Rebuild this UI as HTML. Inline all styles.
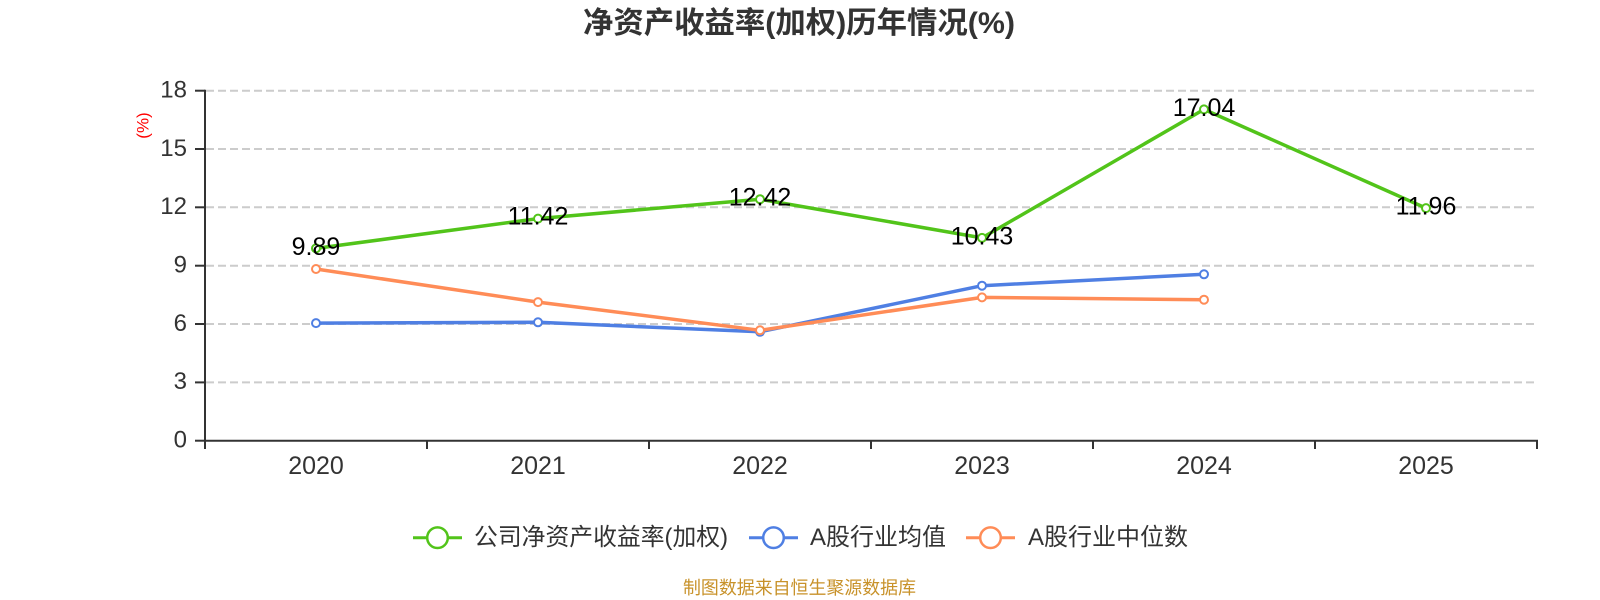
<!DOCTYPE html>
<html>
<head>
<meta charset="utf-8">
<style>
  html, body { margin: 0; padding: 0; background: #fff; }
  svg { display: block; }
  text { font-family: "Liberation Sans", "Noto Sans CJK SC", sans-serif; }
</style>
</head>
<body>
<svg width="1600" height="600" viewBox="0 0 1600 600" xmlns="http://www.w3.org/2000/svg">
  <rect width="1600" height="600" fill="#fff"/>

  <!-- Title -->
  <text x="799" y="33" text-anchor="middle" font-size="30" font-weight="bold" fill="#333" textLength="432" lengthAdjust="spacingAndGlyphs">净资产收益率(加权)历年情况(%)</text>

  <!-- Unit label -->
  <text x="0" y="0" transform="translate(148.5,125.5) rotate(-90)" text-anchor="middle" font-size="17" fill="#ff0000">(%)</text>

  <!-- Grid lines -->
  <g stroke="#cccccc" stroke-width="2" stroke-dasharray="8,4" fill="none">
    <line x1="206" y1="90.7" x2="1537" y2="90.7"/>
    <line x1="206" y1="149.0" x2="1537" y2="149.0"/>
    <line x1="206" y1="207.3" x2="1537" y2="207.3"/>
    <line x1="206" y1="265.7" x2="1537" y2="265.7"/>
    <line x1="206" y1="324.0" x2="1537" y2="324.0"/>
    <line x1="206" y1="382.4" x2="1537" y2="382.4"/>
  </g>

  <!-- Axes -->
  <g stroke="#333" stroke-width="2" fill="none">
    <line x1="205" y1="89.7" x2="205" y2="441.7"/>
    <line x1="204" y1="440.7" x2="1538" y2="440.7"/>
    <line x1="195" y1="90.7" x2="205" y2="90.7"/>
    <line x1="195" y1="149.0" x2="205" y2="149.0"/>
    <line x1="195" y1="207.3" x2="205" y2="207.3"/>
    <line x1="195" y1="265.7" x2="205" y2="265.7"/>
    <line x1="195" y1="324.0" x2="205" y2="324.0"/>
    <line x1="195" y1="382.4" x2="205" y2="382.4"/>
    <line x1="195" y1="440.7" x2="205" y2="440.7"/>
    <line x1="205" y1="440.7" x2="205" y2="449"/>
    <line x1="427" y1="440.7" x2="427" y2="449"/>
    <line x1="649" y1="440.7" x2="649" y2="449"/>
    <line x1="871" y1="440.7" x2="871" y2="449"/>
    <line x1="1093" y1="440.7" x2="1093" y2="449"/>
    <line x1="1315" y1="440.7" x2="1315" y2="449"/>
    <line x1="1537" y1="440.7" x2="1537" y2="449"/>
  </g>

  <!-- Y labels -->
  <g font-size="24" fill="#333" text-anchor="end">
    <text x="187" y="97.5">18</text>
    <text x="187" y="155.8">15</text>
    <text x="187" y="214.1">12</text>
    <text x="187" y="272.5">9</text>
    <text x="187" y="330.8">6</text>
    <text x="187" y="389.2">3</text>
    <text x="187" y="447.5">0</text>
  </g>

  <!-- X labels -->
  <g font-size="25" fill="#333" text-anchor="middle">
    <text x="316" y="474">2020</text>
    <text x="538" y="474">2021</text>
    <text x="760" y="474">2022</text>
    <text x="982" y="474">2023</text>
    <text x="1204" y="474">2024</text>
    <text x="1426" y="474">2025</text>
  </g>

  <!-- Series -->
  <polyline points="316,323.1 538,322.3 760,331.8 982,285.7 1204,274.3" fill="none" stroke="#4f7fe3" stroke-width="3.5" stroke-linejoin="round"/>
  <polyline points="316,269 538,302.1 760,330.3 982,297.4 1204,299.7" fill="none" stroke="#ff8c57" stroke-width="3.5" stroke-linejoin="round"/>
  <polyline points="316,248.4 538,218.65 760,199.2 982,237.9 1204,109.4 1426,208.15" fill="none" stroke="#52c41a" stroke-width="3.5" stroke-linejoin="round"/>

  <!-- Markers -->
  <g fill="#fff" stroke="#4f7fe3" stroke-width="2">
    <circle cx="316" cy="323.1" r="4"/>
    <circle cx="538" cy="322.3" r="4"/>
    <circle cx="760" cy="331.8" r="4"/>
    <circle cx="982" cy="285.7" r="4"/>
    <circle cx="1204" cy="274.3" r="4"/>
  </g>
  <g fill="#fff" stroke="#ff8c57" stroke-width="2">
    <circle cx="316" cy="269" r="4"/>
    <circle cx="538" cy="302.1" r="4"/>
    <circle cx="760" cy="330.3" r="4"/>
    <circle cx="982" cy="297.4" r="4"/>
    <circle cx="1204" cy="299.7" r="4"/>
  </g>
  <g fill="#fff" stroke="#52c41a" stroke-width="2">
    <circle cx="316" cy="248.4" r="4"/>
    <circle cx="538" cy="218.65" r="4"/>
    <circle cx="760" cy="199.2" r="4"/>
    <circle cx="982" cy="237.9" r="4"/>
    <circle cx="1204" cy="109.4" r="4"/>
    <circle cx="1426" cy="208.15" r="4"/>
  </g>

  <!-- Data labels -->
  <g font-size="25" fill="#000" text-anchor="middle">
    <text x="316" y="254.8">9.89</text>
    <text x="538" y="224.7">11.42</text>
    <text x="760" y="205.6">12.42</text>
    <text x="982" y="244.3">10.43</text>
    <text x="1204" y="116">17.04</text>
    <text x="1426" y="214.6">11.96</text>
  </g>

  <!-- Legend -->
  <g>
    <line x1="413" y1="537.7" x2="462" y2="537.7" stroke="#52c41a" stroke-width="3"/>
    <circle cx="437.5" cy="537.7" r="10.3" fill="#fff" stroke="#52c41a" stroke-width="2.5"/>
    <text x="474" y="545" font-size="24" fill="#333" textLength="254" lengthAdjust="spacingAndGlyphs">公司净资产收益率(加权)</text>

    <line x1="749" y1="537.7" x2="798" y2="537.7" stroke="#4f7fe3" stroke-width="3"/>
    <circle cx="773.5" cy="537.7" r="10.3" fill="#fff" stroke="#4f7fe3" stroke-width="2.5"/>
    <text x="810" y="545" font-size="24" fill="#333" textLength="136" lengthAdjust="spacingAndGlyphs">A股行业均值</text>

    <line x1="966" y1="537.7" x2="1015" y2="537.7" stroke="#ff8c57" stroke-width="3"/>
    <circle cx="990.5" cy="537.7" r="10.3" fill="#fff" stroke="#ff8c57" stroke-width="2.5"/>
    <text x="1028" y="545" font-size="24" fill="#333" textLength="160" lengthAdjust="spacingAndGlyphs">A股行业中位数</text>
  </g>

  <!-- Footer -->
  <text x="683" y="594" font-size="18" fill="#c8922a" textLength="233" lengthAdjust="spacingAndGlyphs">制图数据来自恒生聚源数据库</text>
</svg>
</body>
</html>
